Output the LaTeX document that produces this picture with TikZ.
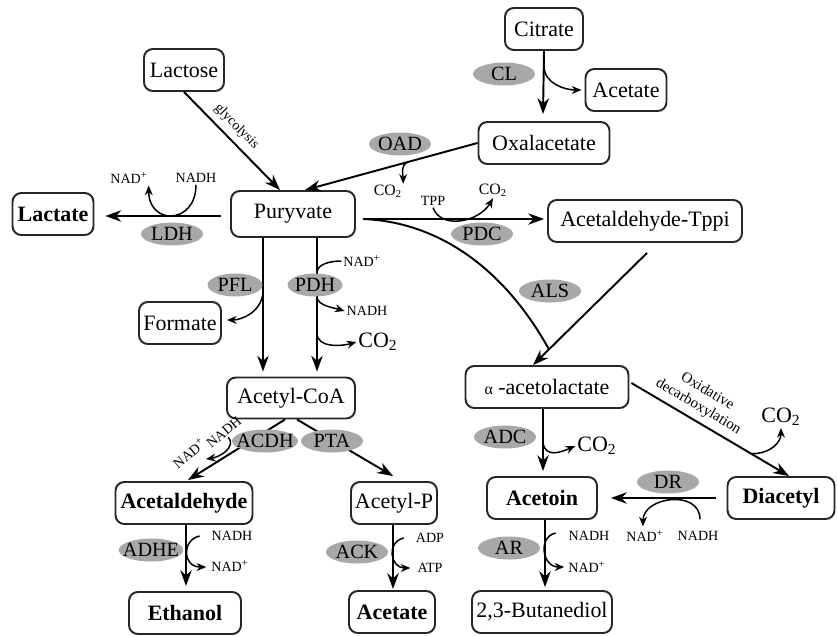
\documentclass[tikz,border=0pt]{standalone}
\usepackage{fontspec}
\setmainfont{Liberation Serif}
\usetikzlibrary{arrows.meta,shapes.geometric,calc}
\newcommand{\mainfs}{\fontsize{12.5}{15}\selectfont}
\newcommand{\smallfs}{\fontsize{8}{9}\selectfont}
\begin{document}
\begin{tikzpicture}[x=0.02cm,y=-0.02cm,every node/.style={font=\mainfs},
  box/.style={draw=black!85,line width=1.1pt,rounded corners=5pt,fill=white,minimum height=0.84cm,inner xsep=2pt},
  bbox/.style={box,font=\mainfs\bfseries},
  enz/.style={ellipse,fill=black!34,inner xsep=-3pt,inner ysep=-1pt,minimum width=1.24cm,minimum height=0.46cm,font=\fontsize{11.5}{13}\selectfont},
  cof/.style={inner sep=1pt,font=\smallfs},
  rxn/.style={line width=1.1pt,-{Stealth[length=9pt,width=6.5pt]}},
  side/.style={line width=0.85pt,-{Stealth[length=5.5pt,width=4.5pt]}}]
  \useasboundingbox (0,0) rectangle (837,636);
  % metabolites
  \node[box,minimum width=1.56cm] (citrate) at (544,29) {Citrate};
  \node[box,minimum width=1.62cm] (acetA) at (626,90) {Acetate};
  \node[box,minimum width=2.62cm] (oxal) at (544,143) {Oxalacetate};
  \node[box,minimum width=1.6cm] (lactose) at (184,70) {Lactose};
  \node[box,minimum width=2.48cm,minimum height=0.92cm] (pyr) at (293,214) {Puryvate};
  \node[bbox,minimum width=1.62cm] (lactate) at (53,214) {Lactate};
  \node[box,minimum width=3.88cm] (acdtppi) at (645,221) {Acetaldehyde-Tppi};
  \node[box,minimum width=3.26cm] (alac) at (547,387) {{\fontsize{9}{10}\selectfont α} -acetolactate};
  \node[bbox,minimum width=2.14cm] (diacetyl) at (781,498) {Diacetyl};
  \node[bbox,minimum width=2.2cm] (acetoin) at (542,498) {Acetoin};
  \node[box,minimum width=2.8cm] (butdiol) at (542,612) {2,3-Butanediol};
  \node[box,minimum width=1.64cm] (formate) at (180,323) {Formate};
  \node[box,minimum width=2.56cm,minimum height=0.82cm] (acoa) at (291,398) {Acetyl-CoA};
  \node[bbox,minimum width=2.74cm] (acald) at (184,503) {Acetaldehyde};
  \node[box,minimum width=1.72cm] (acp) at (394,503) {Acetyl-P};
  \node[bbox,minimum width=2.24cm] (ethanol) at (185,613) {Ethanol};
  \node[bbox,minimum width=1.72cm] (acetB) at (392,612) {Acetate};
  % cofactors
  \node[cof] (ldhnad) at (129,178) {NAD\textsuperscript{+}};
  \node[cof] (ldhnadh) at (196,178) {NADH};
  \node[cof,font=\fontsize{9}{10}\selectfont] (oadco) at (388,191) {CO\textsubscript{2}};
  \node[cof] (tpp) at (433,201) {TPP};
  \node[cof,font=\fontsize{9}{10}\selectfont] (pdcco) at (493,190) {CO\textsubscript{2}};
  \node[cof] (pdhnad) at (362,261) {NAD\textsuperscript{+}};
  \node[cof] (pdhnadh) at (367,311) {NADH};
  \node[cof,font=\mainfs] (pdhco) at (378,342) {CO\textsubscript{2}};
  \node[cof,rotate=40] (acdhnad) at (189,453) {NAD\textsuperscript{+}};
  \node[cof,rotate=40] (acdhnadh) at (224,432) {NADH};
  \coordinate (acdhtip) at (206,459);
  \node[cof] (adhenadh) at (232,536) {NADH};
  \node[cof] (adhenad) at (230,566) {NAD\textsuperscript{+}};
  \node[cof] (adp) at (430,538) {ADP};
  \node[cof] (atp) at (430,568) {ATP};
  \node[cof,font=\mainfs] (adcco) at (597,446) {CO\textsubscript{2}};
  \node[cof,font=\mainfs] (oxco) at (781,417) {CO\textsubscript{2}};
  \node[cof] (drnad) at (645,536) {NAD\textsuperscript{+}};
  \node[cof] (drnadh) at (698,536) {NADH};
  \node[cof] (arnadh) at (589,536) {NADH};
  \node[cof] (arnad) at (587,567) {NAD\textsuperscript{+}};
  % citrate branch
  \draw[rxn] (citrate.south) -- ($(oxal.north)+(-1,-7)$);
  \draw[side] ($(citrate.south)+(0,15)$) .. controls +(0,18) and +(-16,0) .. ($(acetA.west)+(-3,0)$);
  \draw[rxn] (oxal.west) -- coordinate[pos=0.4] (oadbr) ($(pyr.north)+(12,0)$);
  \draw[side] (oadbr) .. controls +(-9,3) and +(0,-9) .. ($(oadco.north east)+(-1,1)$);
  % glycolysis and lactate
  \draw[rxn] (lactose.south) -- node[sloped,above,font=\smallfs,pos=0.45] {glycolysis} ($(pyr.north)+(-13,0)$);
  \draw[rxn] ($(pyr.west)+(-9,2)$) -- ($(lactate.east)+(11,2)$);
  \draw[side] (ldhnadh.south) .. controls +(0,40) and +(0,40) .. ($(ldhnad.south east)+(-1,0)$);
  % pyruvate decarboxylase and ALS
  \coordinate (pstart) at ($(pyr.east)+(7,5)$);
  \draw[rxn] (pstart) -- ($(pstart -| acdtppi.west)+(-3,0)$);
  \draw[side] (tpp.south) .. controls +(8,22) and +(-14,24) .. (pdcco.south);
  \draw[rxn] ($(acdtppi.south)+(2,10)$) -- coordinate[pos=0.86] (alsmeet) ($(alac.north)+(-14,0)$);
  \draw[line width=1.1pt] (pstart) .. controls (440,222) and (505,270) .. (alsmeet);
  % PFL and PDH
  \draw[rxn] ($(pyr.south)+(-30,0)$) -- coordinate[pos=0.41] (pflbr) ($(acoa.north)+(-28,-5)$);
  \draw[rxn] ($(pyr.south)+(24,0)$) -- coordinate[pos=0.26] (pdhbra) coordinate[pos=0.44] (pdhbrb)
    coordinate[pos=0.71] (pdhbrc) ($(acoa.north)+(26,-5)$);
  \draw[side] (pflbr) .. controls +(-2,20) and +(14,0) .. ($(formate.east)+(5,-3)$);
  \draw[line width=0.85pt] (pdhbra) .. controls +(0,-9) and +(-10,0) .. (pdhnad.west);
  \draw[side] (pdhbrb) .. controls +(0,9) and +(-10,-3) .. (pdhnadh.west);
  \draw[side] (pdhbrc) .. controls +(0,16) and +(-14,4) .. (pdhco.west);
  % acetyl-CoA branches
  \draw[rxn] ($(acoa.south)+(-6,0)$) -- ($(acald.north)+(4,-1)$);
  \draw[rxn] ($(acoa.south)+(6,0)$) -- ($(acp.north)+(-1,-5)$);
  \draw[side] (acdhnadh.south) .. controls +(8,10) and +(14,-2) .. (acdhtip);
  \draw[rxn] ($(acald.south)+(2,0)$) -- ($(ethanol.north)+(1,-5)$);
  \draw[side] ($(adhenadh.west)+(-10,0)$) .. controls +(-18,4) and +(-24,0) .. ($(adhenad.west)+(-3,1)$);
  \draw[rxn] ($(acp.south)+(-1,0)$) -- ($(acetB.north)+(1,-1)$);
  \draw[side] ($(adp.west)+(-10,0)$) .. controls +(-18,4) and +(-20,0) .. ($(atp.west)+(-5,0)$);
  % acetolactate branches
  \draw[rxn] ($(alac.south)+(-4,0)$) -- coordinate[pos=0.54] (adcbr) ($(acetoin.north)+(1,-5)$);
  \draw[side] (adcbr) .. controls +(2,16) and +(-14,6) .. (adcco.west);
  \draw[rxn] ($(alac.east)+(2,-4)$) -- node[sloped,above,pos=0.38,align=center,font=\fontsize{8.5}{10}\selectfont] {Oxidative\\decarboxylation}
    coordinate[pos=0.76] (oxbr) ($(diacetyl.north)+(8,0)$);
  \draw[side] (oxbr) .. controls +(20,0) and +(0,14) .. (oxco.south);
  \draw[rxn] ($(diacetyl.west)+(-11,0)$) -- ($(acetoin.east)+(13,0)$);
  \draw[side] ($(drnadh.north)+(2,-10)$) .. controls +(0,-30) and +(0,-30) .. ($(drnad.north)+(-2,-2)$);
  \draw[rxn] ($(acetoin.south)+(3,0)$) -- ($(butdiol.north)+(3,-3)$);
  \draw[side] ($(arnadh.west)+(-11,-3)$) .. controls +(-18,4) and +(-22,0) .. ($(arnad.west)+(-2,0)$);
  % enzymes
  \node[enz] (cl) at (504,74) {CL};
  \node[enz] (oad) at (400,144) {OAD};
  \node[enz] (ldh) at (172,234) {LDH};
  \node[enz] (pdc) at (482,234) {PDC};
  \node[enz] (als) at (550,291) {ALS};
  \node[enz,minimum width=1.1cm] (pfl) at (235,285) {PFL};
  \node[enz,minimum width=1.1cm] (pdh) at (315,285) {PDH};
  \node[enz,minimum width=1.14cm] (acdh) at (265,441) {ACDH};
  \node[enz] (pta) at (332,441) {PTA};
  \node[enz] (adhe) at (151,550) {ADHE};
  \node[enz] (ack) at (357,552) {ACK};
  \node[enz] (adc) at (505,437) {ADC};
  \node[enz] (dr) at (668,482) {DR};
  \node[enz] (ar) at (509,548) {AR};
\end{tikzpicture}
\end{document}
